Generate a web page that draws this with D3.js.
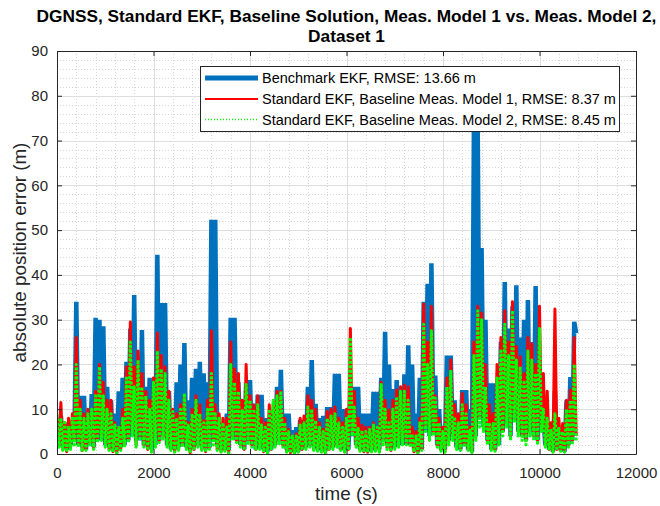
<!DOCTYPE html>
<html><head><meta charset="utf-8">
<script src="https://cdn.jsdelivr.net/npm/d3@7"></script>
<style>
body{margin:0;background:#fff}
svg{display:block}
text{font-family:"Liberation Sans",Arial,Helvetica,sans-serif}
</style>
</head><body>
<svg id="chart" width="660" height="506"></svg>
<script>
// ---------------- data ----------------
const titleLines = ["DGNSS, Standard EKF, Baseline Solution, Meas. Model 1 vs. Meas. Model 2,", "Dataset 1"];
const xLabel = "time (s)";
const yLabel = "absolute position error (m)";
const xTicks = [0, 2000, 4000, 6000, 8000, 10000, 12000];
const yTicks = [0, 10, 20, 30, 40, 50, 60, 70, 80, 90];
const legendLabels = [
  "Benchmark EKF, RMSE: 13.66 m",
  "Standard EKF, Baseline Meas. Model 1, RMSE: 8.37 m",
  "Standard EKF, Baseline Meas. Model 2, RMSE: 8.45 m"
];

// all series sampled every 40 s (absolute position error, m)
const sampleInterval = 40;
const benchmarkError = [
  8,2, 8.5,1.5, 7,1, 5.5,2, 6,3, 34,2, 13,1.5, 13,1, 7,2, 13.4,1.5,
  30.4,3, 30,3, 28.5,2, 15,1.5, 12,1, 9,0.8, 14,1.5, 17,2, 20.6,3, 28,4,
  35.5,3, 22,3, 27.7,2, 15,1.5, 17,1, 10,2, 44.5,3, 33.7,4, 33.7,2, 14,1,
  8,1, 16,1.5, 20,2, 24.8,1.5, 12,0.8, 17,1.5, 19,2, 20.6,1.5, 18,1, 16,1.5,
  52.3,3, 52.3,2, 6,1, 6,1, 9,0.8, 30.4,4, 30.4,3, 16,2, 8,1, 15.8,3,
  16.5,2, 10.5,1, 13.2,1.5, 13.2,1, 8,0.5, 8,1, 9,2, 15,3, 18.8,2, 9,1,
  9,0.5, 5.3,0.4, 6,0.6, 7.6,1, 7.6,1.5, 15,2, 21,1.5, 11.2,1, 8,0.8, 8.5,0.6,
  10.5,1, 10.5,1.5, 17.9,2, 17.9,1, 10,0.8, 9,1, 13,4, 15,2, 15,1, 9,0.8,
  9,0.6, 9,0.8, 13.9,1, 13.9,1, 17,3, 27.3,2, 20,1, 14.5,1.5, 16.5,2, 12,2,
  17.8,2, 24.3,2, 20,1, 9,0.5, 17,1, 34,5, 38,4, 42.6,5, 17.5,2, 10,1,
  5.5,1, 22,3, 22,4, 12,1.5, 7.5,1, 14.3,2, 14.3,1, 10,0.5, 72,4, 72,8,
  46,6, 30,3, 15.8,1, 15.8,1, 10,2, 25,5, 38.4,7, 28,4, 33,8, 37.7,5,
  26,4, 30,3, 34.4,5, 25,4, 37.5,3, 20,6, 8.5,2, 5,1, 5,0.5, 14,1,
  5,0.8, 6,0.5, 12,2, 17.2,3, 29.5,27
];
const model1Error = [
  8,2, 11.5,1, 7,0.5, 8,1.5, 9,3, 26,2, 12,0.8, 9,1, 10,2.5, 9,1.2,
  14,3, 20,4, 16,2, 12,1, 12,0.5, 7,0.3, 6,1, 10,2, 19.5,3, 29.5,5,
  19.5,2, 23,4, 18,2, 14,1, 12,0.5, 17,2, 27,3, 22,4, 19.5,2, 14,1,
  10,0.5, 9,1, 11,2, 13,1.5, 7,0.3, 10,1, 13,2, 11,1, 7.5,0.5, 12,1.5,
  27.5,3, 11,1, 9,0.5, 8,0.8, 8,0.3, 25,4, 19,3, 18,2, 12,1, 20,3,
  13,2, 11,1, 13,1.5, 8,0.5, 7,0.3, 11,1, 11,2, 14,3, 14,2, 8,0.5,
  5.5,0.3, 4,0.2, 4.5,0.5, 8,1, 8.5,1.5, 13,2, 12,1, 10,0.8, 7,0.5, 5.5,0.3,
  9.5,1, 10,1.5, 10.5,2, 8,1, 7,0.5, 10,1, 28,5, 14,2, 8,0.8, 6.5,0.5,
  6,0.4, 6,0.6, 7,0.8, 6,0.5, 16,3, 12,1.5, 9.8,0.8, 12,1.5, 14.3,2, 15,3,
  15.4,2.5, 15,2, 6,0.5, 5,0.3, 8,1, 33.5,6, 25,4, 33,5, 13,2, 8,0.8,
  6,0.5, 17,3, 21,4, 11,1.5, 9,1, 13.5,2, 11,1, 6,0.4, 25,4, 33,8,
  31.5,6, 20,3, 11,1, 9,0.8, 20,3, 26,5, 32,7, 25,4, 34,8, 24,5,
  21.7,4, 18,3, 26,5, 24.7,4, 20,3, 33,6, 18,2, 14,1, 7,0.5, 32.4,1,
  8,0.8, 6.8,0.5, 12,2, 14.3,3, 26,4
];
const model2Error = [
  9,1.5, 8,0.8, 7.5,0.4, 6,1, 8,2, 20,1.5, 10,0.5, 8,0.8, 9,2, 10,1,
  13,2.5, 19.5,3, 13,1.5, 10,0.8, 9,0.4, 6.5,0.2, 6,0.8, 8,1.5, 17,2.5, 25,4,
  15,1.5, 21,3, 15,1.5, 13,0.8, 10,0.4, 16,1.5, 23,2.5, 19,3, 18,1.5, 12,0.8,
  9.5,0.4, 8,0.8, 10,1.5, 13.5,1, 6.5,0.2, 9,0.8, 12,1.5, 9,0.8, 7,0.4, 10,1,
  18,2, 9,0.8, 8,0.4, 7,0.6, 6,0.2, 20,3, 16,2.5, 14,1.5, 10,0.8, 15.5,2,
  12,1.5, 10,0.8, 11,1, 6.5,0.4, 6,0.2, 10,0.8, 12,1.5, 13,2, 14,1.5, 7,0.4,
  5,0.2, 4,0.1, 4,0.4, 6.5,0.8, 7,1, 10.5,1.5, 10,0.8, 7.5,0.6, 6,0.4, 5,0.2,
  8,0.8, 8.5,1, 9,1.5, 7,0.8, 6,0.4, 8,0.8, 26,4, 10.5,1.5, 6,0.6, 5.3,0.4,
  5,0.3, 5.5,0.5, 6.5,0.6, 6,0.4, 15.5,2, 10,1, 7,0.6, 10,1, 12.8,1.5, 14,2,
  14,2, 12,1.5, 4.5,0.4, 4,0.2, 7,0.8, 29,5, 20,3, 27.5,4, 12.5,1.5, 7,0.6,
  5,0.4, 15,2, 18.5,3, 8.3,1, 7,0.8, 11,1.5, 9,0.8, 5.3,0.3, 22,3, 32,6,
  30,5, 15,2, 7,0.8, 6.8,0.6, 17,2, 23,4, 29,6, 22,3, 32,7, 21,4,
  19.5,3, 16,2, 23,4, 21,3, 18,2, 28,5, 10,1.5, 8,0.8, 5.3,0.4, 9,0.8,
  6,0.6, 5,0.4, 10,1.5, 12,2, 20,3
];

// ---------------- drawing ----------------
const W = 660, H = 506;
const plot = {left: 57, right: 636, top: 51, bottom: 454};
const axisColor = "#262626";
const svg = d3.select("#chart");
svg.append("rect").attr("width", W).attr("height", H).attr("fill", "#fff");

const x = d3.scaleLinear().domain([0, 12000]).range([plot.left, plot.right]);
const y = d3.scaleLinear().domain([0, 90]).range([plot.bottom, plot.top]);

// grid
const grid = svg.append("g");
const xMinor = d3.range(0, 12001, 400).filter(v => v % 2000 !== 0);
const yMinor = d3.range(0, 91, 2).filter(v => v % 10 !== 0);
grid.selectAll(".xm").data(xMinor).join("line")
  .attr("x1", d => Math.round(x(d)) + 0.5).attr("x2", d => Math.round(x(d)) + 0.5)
  .attr("y1", plot.top).attr("y2", plot.bottom)
  .attr("stroke", "#d6d6d6").attr("stroke-width", 1).attr("stroke-dasharray", "1,2");
grid.selectAll(".ym").data(yMinor).join("line")
  .attr("y1", d => Math.round(y(d)) + 0.5).attr("y2", d => Math.round(y(d)) + 0.5)
  .attr("x1", plot.left).attr("x2", plot.right)
  .attr("stroke", "#d6d6d6").attr("stroke-width", 1).attr("stroke-dasharray", "1,2");
grid.selectAll(".xM").data(xTicks).join("line")
  .attr("x1", d => Math.round(x(d)) + 0.5).attr("x2", d => Math.round(x(d)) + 0.5)
  .attr("y1", plot.top).attr("y2", plot.bottom)
  .attr("stroke", "#dedede").attr("stroke-width", 1);
grid.selectAll(".yM").data(yTicks).join("line")
  .attr("y1", d => Math.round(y(d)) + 0.5).attr("y2", d => Math.round(y(d)) + 0.5)
  .attr("x1", plot.left).attr("x2", plot.right)
  .attr("stroke", "#dedede").attr("stroke-width", 1);

// series
svg.append("clipPath").attr("id", "clip").append("rect")
  .attr("x", plot.left).attr("y", plot.top)
  .attr("width", plot.right - plot.left).attr("height", plot.bottom - plot.top);
const series = svg.append("g").attr("clip-path", "url(#clip)");

const toPoints = arr => arr.map((v, i) => [i * sampleInterval, v]);
const line = d3.line().x(d => x(d[0])).y(d => y(d[1]));

series.append("path").datum(toPoints(benchmarkError)).attr("d", line)
  .attr("fill", "none").attr("stroke", "#0072BD").attr("stroke-width", 4.5)
  .attr("stroke-linejoin", "miter").attr("stroke-miterlimit", 1.5);
series.append("path").datum(toPoints(model1Error)).attr("d", line)
  .attr("fill", "none").attr("stroke", "#ff0000").attr("stroke-width", 3)
  .attr("stroke-linejoin", "round");
series.append("path").datum(toPoints(model2Error)).attr("d", line)
  .attr("fill", "none").attr("stroke", "#00ff00").attr("stroke-width", 3)
  .attr("stroke-dasharray", "3,1.5").attr("stroke-linejoin", "round");

// axes
function styleAxis(g) {
  g.select(".domain").attr("stroke", axisColor);
  g.selectAll(".tick line").attr("stroke", axisColor);
  g.selectAll(".tick text").attr("fill", axisColor).attr("font-size", 15)
    .attr("font-family", '"Liberation Sans",Arial,Helvetica,sans-serif');
}
const fmt = d3.format("d");
svg.append("g").attr("transform", `translate(0,${plot.bottom})`)
  .call(d3.axisBottom(x).tickValues(xTicks).tickFormat(fmt).tickSizeInner(-5).tickSizeOuter(0).tickPadding(13))
  .call(styleAxis);
svg.append("g").attr("transform", `translate(0,${plot.top})`)
  .call(d3.axisTop(x).tickValues(xTicks).tickFormat("").tickSizeInner(-5).tickSizeOuter(0))
  .call(styleAxis);
svg.append("g").attr("transform", `translate(${plot.left},0)`)
  .call(d3.axisLeft(y).tickValues(yTicks).tickFormat(fmt).tickSizeInner(-5).tickSizeOuter(0).tickPadding(9))
  .call(styleAxis);
svg.append("g").attr("transform", `translate(${plot.right},0)`)
  .call(d3.axisRight(y).tickValues(yTicks).tickFormat("").tickSizeInner(-5).tickSizeOuter(0))
  .call(styleAxis);

function fitWidth(sel, target) {
  const w = sel.node().getComputedTextLength();
  const fs = parseFloat(sel.attr("font-size"));
  sel.attr("font-size", fs * target / w);
  return fs * target / w;
}

// axis labels
const cx = (plot.left + plot.right) / 2;
const yl = svg.append("text").attr("transform", `translate(26,${(plot.top + plot.bottom) / 2}) rotate(-90)`)
  .attr("text-anchor", "middle").attr("font-size", 16).attr("fill", axisColor).text(yLabel);
const labelFs = fitWidth(yl, 220);
svg.append("text").attr("x", cx).attr("y", 500).attr("text-anchor", "middle")
  .attr("font-size", labelFs).attr("fill", axisColor).text(xLabel);

// title
const t1 = svg.append("text").attr("x", cx).attr("y", 22).attr("text-anchor", "middle")
  .attr("font-size", 16).attr("font-weight", "bold").attr("fill", "#000").text(titleLines[0]);
const titleFs = fitWidth(t1, 620);
svg.append("text").attr("x", cx).attr("y", 42).attr("text-anchor", "middle")
  .attr("font-size", titleFs).attr("font-weight", "bold").attr("fill", "#000").text(titleLines[1]);

// legend
const lg = {x: 200, y: 66, w: 419, h: 65};
const legend = svg.append("g");
legend.append("rect").attr("x", lg.x + 0.5).attr("y", lg.y + 0.5).attr("width", lg.w).attr("height", lg.h)
  .attr("fill", "#fff").attr("stroke", axisColor).attr("stroke-width", 1);
const rowY = [78, 99, 119.5];
const sampleStyles = [
  {stroke: "#0072BD", width: 5, dash: null},
  {stroke: "#ff0000", width: 2, dash: null},
  {stroke: "#00ff00", width: 1.5, dash: "1,2"}
];
const texts = legendLabels.map((lab, i) => {
  const s = sampleStyles[i];
  legend.append("line").attr("x1", 205).attr("x2", 258).attr("y1", rowY[i]).attr("y2", rowY[i])
    .attr("stroke", s.stroke).attr("stroke-width", s.width).attr("stroke-dasharray", s.dash);
  return legend.append("text").attr("x", 262).attr("y", rowY[i]).attr("dy", "0.35em")
    .attr("font-size", 13.5).attr("fill", "#000").text(lab);
});
const legFs = fitWidth(texts[1], 354);
texts.forEach(t => t.attr("font-size", legFs));
</script>
</body></html>
